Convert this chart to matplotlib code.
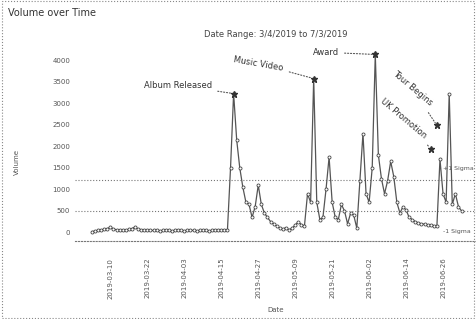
import numpy as np
import pandas as pd
import matplotlib
matplotlib.use('Agg')
import matplotlib.pyplot as plt
from matplotlib.patches import Rectangle

# data
start = pd.Timestamp('2019-03-04')
volume = [20, 30, 45, 60, 70, 90, 120, 80, 60, 55,
          50, 60, 70, 90, 125, 80, 60, 55, 50, 45,
          45, 50, 40, 45, 50, 45, 40, 45, 50, 45,
          40, 45, 50, 45, 40, 45, 50, 45, 40, 45,
          50, 45, 50, 55, 60, 1500, 3230, 2150, 1500, 1050,
          700, 650, 350, 600, 1100, 650, 450, 350, 250, 200,
          150, 100, 80, 110, 60, 100, 170, 250, 180, 150,
          900, 700, 3580, 700, 300, 350, 1000, 1750, 700, 350,
          300, 650, 500, 200, 450, 400, 100, 1200, 2300, 900,
          700, 1500, 4140, 1800, 1250, 900, 1200, 1650, 1300, 700,
          450, 600, 520, 350, 300, 250, 220, 200, 190, 180,
          170, 160, 140, 1700, 900, 700, 3230, 650, 900, 600,
          500]
dates = pd.date_range(start, periods=len(volume), freq='D')

upper_band = 1210
lower_band = 490
band_labels = ['+1 Sigma', '-1 Sigma']

ev_names = ['Album Released', 'Music Video', 'Award', 'Tour Begins', 'UK Promotion']
ev_days = [46, 72, 92, 112, 110]
ev_vals = [3230, 3580, 4140, 2490, 1950]
ev_txt_days = [28, 54, 76, 104, 101]
ev_txt_vals = [3420, 3930, 4190, 3350, 2650]
ev_rot = [0, -10, 0, -40, -40]

tick_dates = pd.date_range('2019-03-10', periods=10, freq='12D')

## plot
fig = plt.figure(figsize=(4.76, 3.19), dpi=100)
ax = fig.add_axes([75/476, 1-241/319, 401/476, 202/319])

ax.plot(dates, volume, color='#555555', lw=0.9, marker='o', ms=2.2,
        mfc='white', mec='#444444', mew=0.6, zorder=3)

ax.axhline(upper_band, color='#777777', ls=':', lw=0.8)
ax.axhline(lower_band, color='#777777', ls=':', lw=0.8)
ax.text(start + pd.Timedelta(days=114), 1490, band_labels[0], fontsize=4.5, color='#555555', va='center')
ax.text(start + pd.Timedelta(days=114), 20, band_labels[1], fontsize=4.5, color='#555555', va='center')

for nm, d, v, td, tv, r in zip(ev_names, ev_days, ev_vals, ev_txt_days, ev_txt_vals, ev_rot):
	xy = start + pd.Timedelta(days=d)
	xt = start + pd.Timedelta(days=td)
	ax.plot(xy, v, marker='*', color='#333333', ms=5, zorder=4)
	ax.annotate(nm, xy=(xy, v), xytext=(xt, tv), fontsize=6, rotation=r,
	            ha='center', va='center', color='#333333',
	            arrowprops=dict(arrowstyle='-', ls=':', color='#555555', lw=0.8))

ax.set_xlim(start - pd.Timedelta(days=5.5), start + pd.Timedelta(days=124.7))
ax.set_ylim(-200, 4500)
ax.set_yticks(np.arange(0, 4001, 500))
ax.set_xticks(tick_dates)
ax.set_xticklabels(tick_dates.strftime('%Y-%m-%d'), rotation=90)
ax.tick_params(axis='both', labelsize=5, length=0, colors='#555555')
ax.tick_params(axis='x', pad=12)

for s in ['top', 'right', 'left']:
	ax.spines[s].set_visible(False)
ax.spines['bottom'].set_linestyle(':')
ax.spines['bottom'].set_color('#777777')

ax.set_xlabel('Date', fontsize=5, color='#555555', labelpad=6)
fig.text(17/476, 1-162/319, 'Volume', rotation=90, fontsize=5, color='#555555', ha='center', va='center')

ax.text(0.5, 1.0, 'Date Range: 3/4/2019 to 7/3/2019', transform=ax.transAxes,
        ha='center', va='bottom', fontsize=6, color='#444444')
fig.text(8/476, 1-13/319, 'Volume over Time', fontsize=7, color='#333333', ha='left', va='center')

fig.patches.append(Rectangle((0.004, 0.004), 0.992, 0.992, transform=fig.transFigure,
                             fill=False, ls=':', lw=0.8, ec='#888888'))

fig.savefig('out.png', dpi=100)
plt.close()
